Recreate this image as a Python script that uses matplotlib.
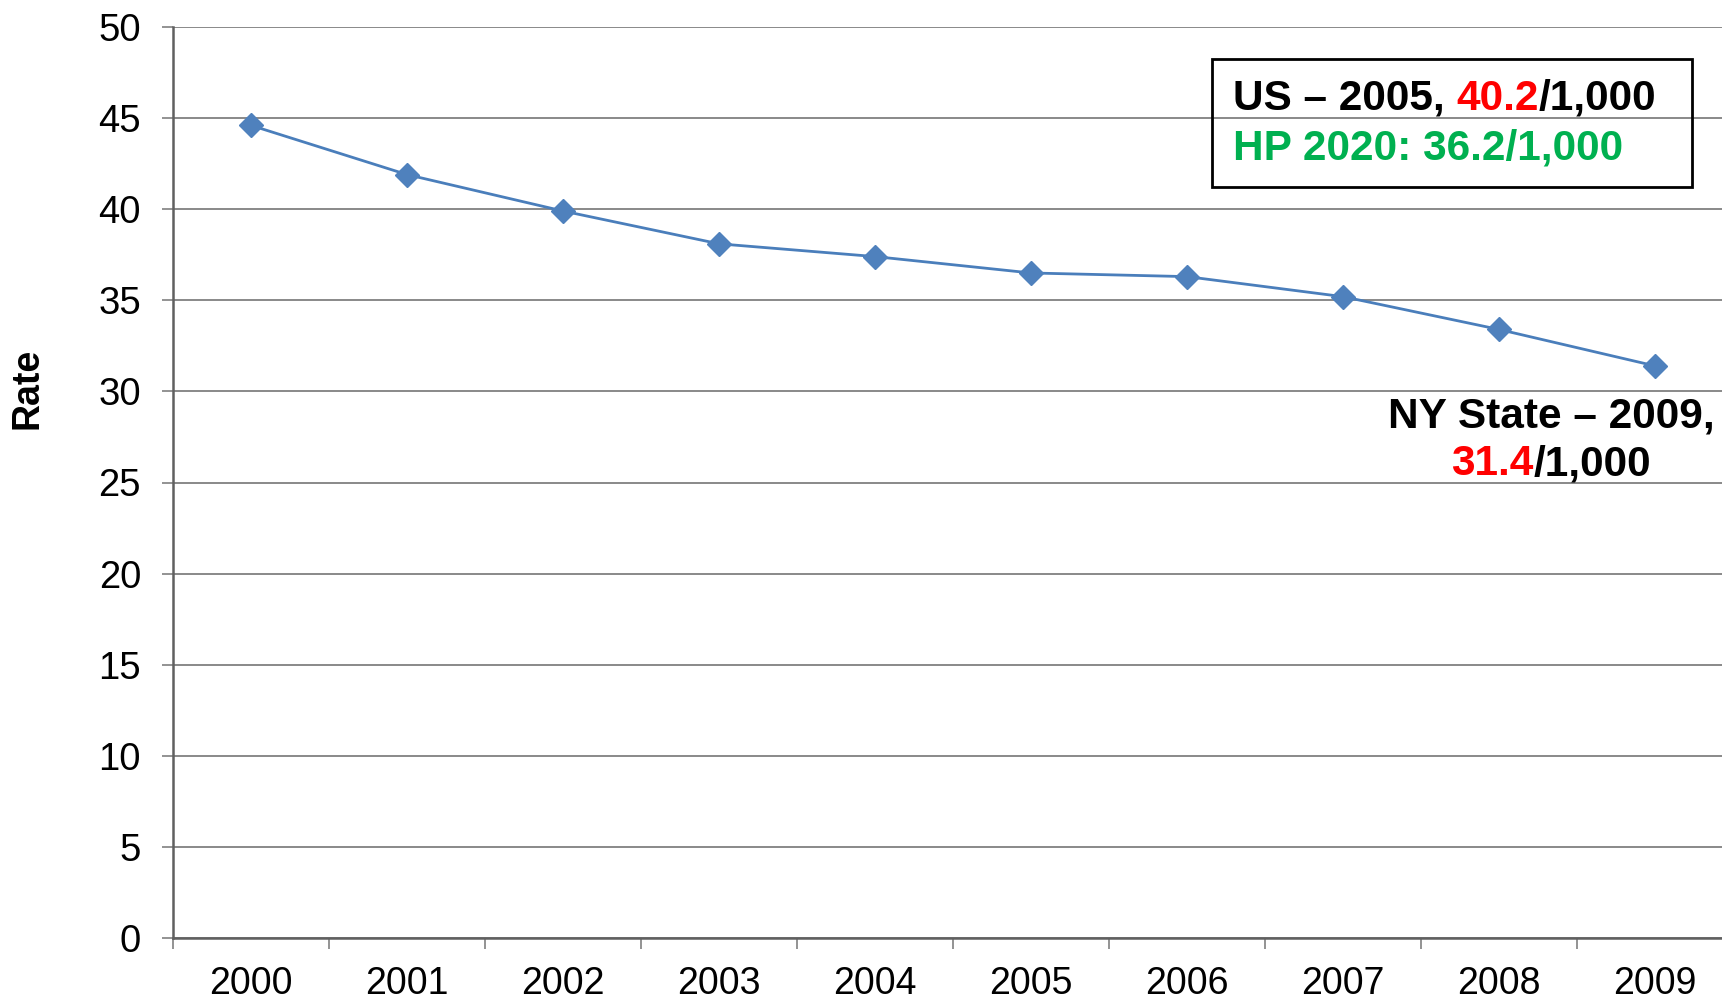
import matplotlib
matplotlib.use('agg')
import matplotlib.pyplot as plt
from matplotlib.patches import Rectangle

plt.rcParams['font.family'] = ['Liberation Sans', 'DejaVu Sans']

# 年ごとの率（/1,000）
years = ['2000', '2001', '2002', '2003', '2004', '2005', '2006', '2007', '2008', '2009']
rate = [44.6, 41.9, 39.9, 38.1, 37.4, 36.5, 36.3, 35.2, 33.4, 31.4]
us_rate = 40.2
hp2020 = 36.2
ny_rate = rate[-1]

W, H = 1722, 1000
fig = plt.figure(figsize=(W / 100, H / 100), dpi=100)
ax = fig.add_axes([173 / W, 1 - 938 / H, 1560 / W, 911 / H])

x = list(range(len(years)))
ax.plot(x, rate, color='#4A7EBB', lw=2, marker='D', ms=12.5, mfc='#4F81BD', mec='#4F81BD', zorder=3)

ax.set_xlim(-0.5, len(years) - 0.5)
ax.set_ylim(0, 50)
ax.set_yticks(range(0, 51, 5))
ax.set_xticks(x)
ax.set_xticklabels(years)
ax.set_xticks([i - 0.5 for i in range(len(years) + 1)], minor=True)
ax.yaxis.grid(True, color='#808080', lw=1.3)
ax.set_axisbelow(True)
ax.tick_params(axis='y', labelsize=27.5, length=8, width=1.2, color='#808080', pad=15)
ax.tick_params(axis='x', which='major', labelsize=27, length=0, pad=20)
ax.tick_params(axis='x', which='minor', length=8, width=1.2, color='#808080')
for s in ['top', 'right']:
    ax.spines[s].set_visible(False)
ax.spines['left'].set_color('#606060')
ax.spines['bottom'].set_color('#606060')
ax.spines['left'].set_linewidth(1.8)
ax.spines['bottom'].set_linewidth(1.8)

fig.text(27 / W, 1 - 388 / H, 'Rate', rotation=90, fontsize=27, fontweight='bold',
         ha='center', va='center')

fig.canvas.draw()
rend = fig.canvas.get_renderer()


def pieces(parts, x0, y0, size=30.5, center=False):
    # 色違いの文字列を横に並べる（ピクセル座標）
    ts = []
    for s, c in parts:
        t = fig.text(0, 0, s, color=c, fontsize=size, fontweight='bold', va='baseline')
        ts.append(t)
    widths = [t.get_window_extent(renderer=rend).width for t in ts]
    xs = x0 - sum(widths) / 2 if center else x0
    for t, w in zip(ts, widths):
        t.set_position((xs / W, 1 - y0 / H))
        xs += w


# 凡例ボックス
fig.patches.append(Rectangle((1212 / W, 1 - 187 / H), 480 / W, 128 / H, transform=fig.transFigure,
                             fill=False, ec='black', lw=2))
pieces([('US \u2013 2005, ', 'black'), (f'{us_rate}', '#FF0000'), ('/1,000', 'black')], 1233, 110)
pieces([(f'HP 2020: {hp2020}/1,000', '#00B050')], 1233, 160)

# NY State 注記
pieces([('NY State \u2013 2009,', 'black')], 1551, 427, center=True)
pieces([(f'{ny_rate}', '#FF0000'), ('/1,000', 'black')], 1551, 475, center=True)

plt.savefig('out.png', dpi=100)
